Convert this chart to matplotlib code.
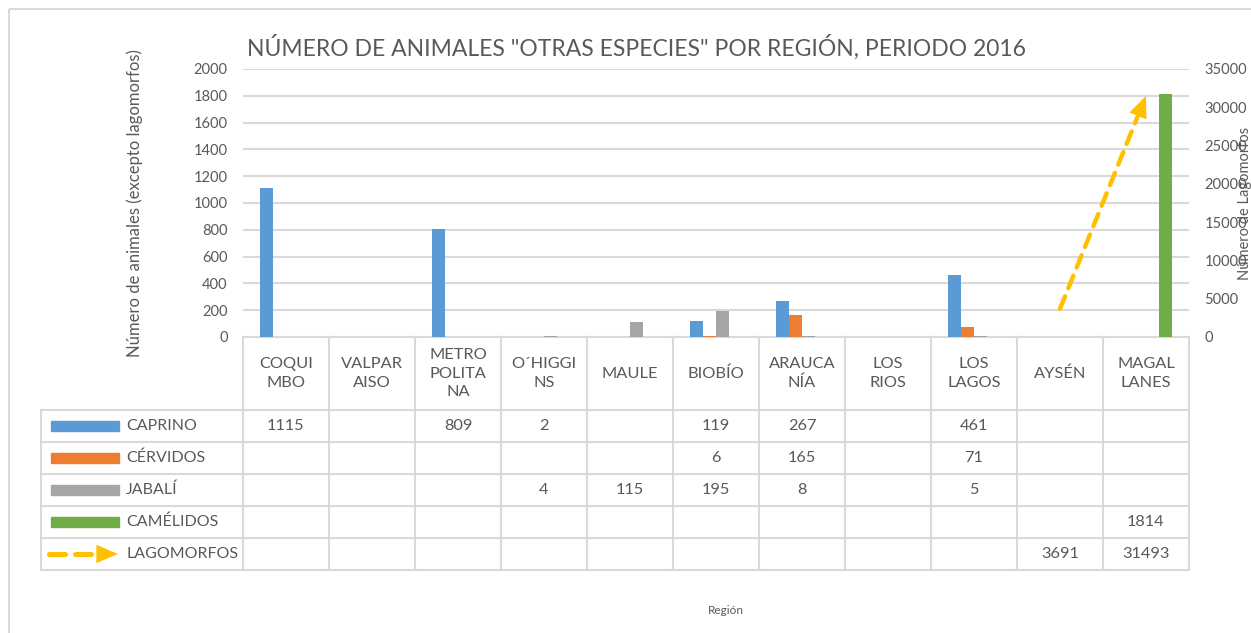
import matplotlib.pyplot as plt
import numpy as np
from matplotlib.patches import Rectangle

plt.rcParams['font.family'] = ['Lato', 'DejaVu Sans']

# data (blank cells in the original table are NaN)
regiones = ["COQUI\nMBO", "VALPAR\nAISO", "METRO\nPOLITA\nNA", "O´HIGGI\nNS", "MAULE",
            "BIOBÍO", "ARAUCA\nNÍA", "LOS\nRIOS", "LOS\nLAGOS", "AYSÉN", "MAGAL\nLANES"]
nan = np.nan
caprino = [1115, nan, 809, 2, nan, 119, 267, nan, 461, nan, nan]
cervidos = [nan, nan, nan, nan, nan, 6, 165, nan, 71, nan, nan]
jabali = [nan, nan, nan, 4, 115, 195, 8, nan, 5, nan, nan]
camelidos = [nan, nan, nan, nan, nan, nan, nan, nan, nan, nan, 1814]
lagomorfos = [nan, nan, nan, nan, nan, nan, nan, nan, nan, 3691, 31493]

series_bar = ["CAPRINO", "CÉRVIDOS", "JABALÍ", "CAMÉLIDOS"]
bar_values = [caprino, cervidos, jabali, camelidos]
bar_colors = ["#5B9BD5", "#ED7D31", "#A5A5A5", "#70AD47"]
lago_color = "#FFC000"
txt = "#595959"
grid = "#D9D9D9"

W, H = 1251, 633
fig = plt.figure(figsize=(W / 100, H / 100), dpi=100)


def box(l, t, r, b):
    return [l / W, 1 - b / H, (r - l) / W, (b - t) / H]


# overlay in pixel coords for the frame and the data table
tb = fig.add_axes([0, 0, 1, 1], zorder=0)
tb.set_xlim(0, W)
tb.set_ylim(H, 0)
tb.axis('off')

ax = fig.add_axes(box(243, 69, 1189, 337), zorder=1)
ax.patch.set_visible(False)
ax2 = ax.twinx()

x = np.arange(len(regiones))
bw = 13 / 86
for k, (vals, col) in enumerate(zip(bar_values, bar_colors)):
    v = np.array(vals, dtype=float)
    m = ~np.isnan(v)
    ax.bar(x[m] + (k - 1.5) * bw, v[m], width=bw, color=col, zorder=3)

ax.set_xlim(-0.5, len(regiones) - 0.5)
ax.set_ylim(0, 2000)
ax.set_yticks(range(0, 2001, 200))
ax.set_xticks([])
ax.grid(axis='y', color=grid, lw=1.5, zorder=0)
ax.tick_params(axis='y', length=0, labelsize=10.5, labelcolor=txt, pad=11)
for s in ax.spines.values():
    s.set_visible(False)

# lagomorfos line on secondary axis
lag = np.array(lagomorfos, dtype=float)
m = ~np.isnan(lag)
lx, ly = x[m], lag[m]
f = 0.9
ex, ey = lx[0] + f * (lx[1] - lx[0]), ly[0] + f * (ly[1] - ly[0])
ax2.plot([lx[0], ex], [ly[0], ey], color=lago_color, lw=3.2, dashes=(3, 2),
         dash_capstyle='round', zorder=4)
ax2.annotate('', xy=(lx[1], ly[1]), xytext=(ex, ey),
             arrowprops=dict(arrowstyle='-|>,head_length=1.3,head_width=0.55',
                             mutation_scale=12, color=lago_color, lw=0,
                             shrinkA=0, shrinkB=0))
ax2.set_ylim(0, 35000)
ax2.set_yticks(range(0, 35001, 5000))
ax2.tick_params(axis='y', length=0, labelsize=10.5, labelcolor=txt, pad=11)
for s in ax2.spines.values():
    s.set_visible(False)

# outer frame
tb.add_patch(Rectangle((9, 9), 1300, 700, fill=False, ec=grid, lw=1.5))

# data table
x0, x1 = 243, 1189
cw = (x1 - x0) / len(regiones)
rows = [410, 442, 474, 506, 538, 570]
for k in range(len(regiones) + 1):
    tb.plot([x0 + k * cw] * 2, [337, rows[-1]], color=grid, lw=1.5)
tb.plot([41, 41], [rows[0], rows[-1]], color=grid, lw=1.5)
tb.plot([x0, x1], [337, 337], color=grid, lw=1.5)
for r in rows:
    tb.plot([41, x1], [r, r], color=grid, lw=1.5)

for k, name in enumerate(regiones):
    tb.text(x0 + (k + 0.5) * cw, (337 + rows[0]) / 2, name, ha='center', va='center',
            fontsize=11.8, color=txt, linespacing=1.45)

row_names = series_bar + ["LAGOMORFOS"]
row_vals = bar_values + [lagomorfos]
for i, (name, vals) in enumerate(zip(row_names, row_vals)):
    yc = (rows[i] + rows[i + 1]) / 2
    tb.text(126, yc, name, ha='left', va='center', fontsize=11.5, color=txt)
    for k, v in enumerate(vals):
        if not np.isnan(v):
            tb.text(x0 + (k + 0.5) * cw, yc, f"{int(v)}", ha='center', va='center',
                    fontsize=11.8, color=txt)
    if i < len(bar_colors):
        tb.add_patch(Rectangle((51, yc - 5), 68, 10, color=bar_colors[i]))
    else:
        tb.plot([49, 101], [yc, yc], color=lago_color, lw=3.6, dashes=(3.2, 2),
                dash_capstyle='round')
        tb.annotate('', xy=(118, yc), xytext=(100, yc),
                    arrowprops=dict(arrowstyle='-|>,head_length=1.3,head_width=0.55',
                                    mutation_scale=12, color=lago_color, lw=0,
                                    shrinkA=0, shrinkB=0))

# titles and axis labels
fig.text(247 / W, 1 - 47 / H, 'NÚMERO DE ANIMALES "OTRAS ESPECIES" POR REGIÓN, PERIODO 2016',
         ha='left', va='center', fontsize=16.5, color=txt)
fig.text(135 / W, 1 - 203 / H, 'Número de animales (excepto lagomorfos)', rotation=90,
         ha='center', va='center', fontsize=12, color=txt)
fig.text(1245 / W, 1 - 203 / H, 'Número de Lagomorfos', rotation=90,
         ha='center', va='center', fontsize=10.5, color=txt)
fig.text(726 / W, 1 - 610 / H, 'Región', ha='center', va='center', fontsize=8.5, color=txt)

fig.savefig('out.png', dpi=100)
